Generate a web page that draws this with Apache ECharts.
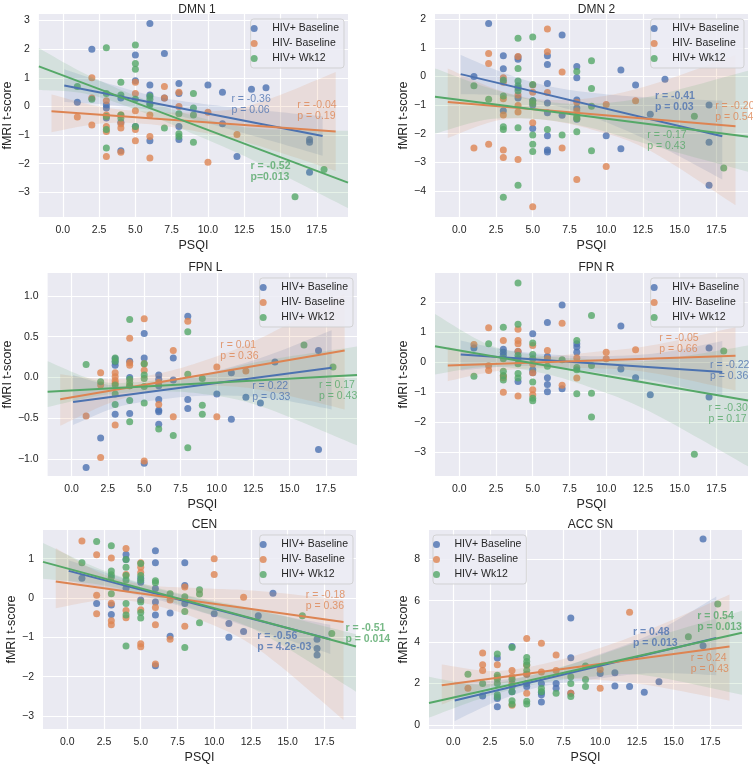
<!DOCTYPE html>
<html><head><meta charset="utf-8">
<script src="https://cdn.jsdelivr.net/npm/echarts@6/dist/echarts.min.js"></script>
<style>html,body{margin:0;padding:0;background:#fff}#c{width:753px;height:765px}</style>
</head><body><div id="c"></div>
<script>
const GROUPS = ['HIV+ Baseline', 'HIV- Baseline', 'HIV+ Wk12'];
const PANEL_TITLES = ['DMN 1', 'DMN 2', 'FPN L', 'FPN R', 'CEN', 'ACC SN'];
const X_TICKS = [0, 2.5, 5, 7.5, 10, 12.5, 15, 17.5];
const Y_TICKS_DMN1 = [-3, -2, -1, 0, 1, 2, 3];
const Y_TICKS_DMN2 = [-4, -3, -2, -1, 0, 1, 2];
const Y_TICKS_FPNL = [-1, -0.5, 0, 0.5, 1];
const Y_TICKS_FPNR = [-3, -2, -1, 0, 1, 2];
const Y_TICKS_CEN = [-3, -2, -1, 0, 1];
const Y_TICKS_ACC = [0, 2, 4, 6, 8];

// ---------- DMN 1 ----------
const dmn1_pos = [[1,0.15],[2,2.0],[3,0.05],[3,-0.05],[3,-0.4],[4,0.3],[4,-0.55],[4,-1.55],[5,1.8],[5,0.9],[5,-0.7],[6,2.9],[6,0.75],[6,0.4],[6,0.1],[6,-1.2],[7,1.85],[7,0.3],[8,0.8],[8,0.45],[8,-0.7],[8,-1.15],[10,0.75],[11,0.5],[11,-0.6],[12,-1.75],[13,0.6],[14,0.65],[17,-1.15],[17,-1.25],[17,-2.3]];
const dmn1_neg = [[1,-0.37],[2,1.0],[2,0.3],[2,-0.65],[3,0.2],[3,-0.3],[3,-0.7],[3,-0.87],[3,-1.75],[4,-0.3],[4,-0.6],[4,-0.75],[4,-1.6],[5,0.85],[5,0.45],[5,-0.15],[5,-0.8],[5,-1.2],[6,-0.3],[6,-1.05],[6,-1.8],[7,0.7],[7,0.3],[8,0.5],[8,0.0],[10,-0.2],[10,-1.95],[12,-0.98]];
const dmn1_wk12 = [[1,0.7],[2,0.25],[3,2.05],[3,0.45],[3,-0.35],[3,-0.8],[3,-1.45],[4,0.85],[4,0.4],[4,-0.3],[4,-0.4],[5,2.15],[5,1.5],[5,1.3],[5,0.25],[5,-0.7],[6,0.35],[6,0.25],[6,0.05],[7,-0.75],[8,-0.25],[8,-0.95],[8,-1.05],[9,0.45],[9,-0.05],[9,-0.3],[9,-1.25],[16,-3.15],[18,-2.2]];
const dmn1_fit_pos = [[0.1,0.73],[17.9,-1.03]];
const dmn1_fit_neg = [[-0.78,-0.17],[18.8,-0.87]];
const dmn1_fit_wk12 = [[-1.65,1.4],[19.65,-2.66]];
const dmn1_ci_pos = [[0.1,0.16,1.30],[3,0.06,0.82],[6.5,-0.16,0.34],[10,-0.59,0.07],[14,-1.15,-0.15],[17.9,-1.72,-0.34]];
const dmn1_ci_neg = [[-0.78,-0.9,0.42],[2.5,-0.6,0.0],[5.5,-0.6,-0.17],[9,-0.85,-0.2],[13,-1.3,0.05],[18.8,-2.25,1.2]];
const dmn1_ci_wk12 = [[-1.65,0.58,2.04],[1.5,0.45,1.15],[5,-0.1,0.38],[8.5,-0.85,-0.25],[13,-1.85,-0.75],[19.65,-3.55,-0.85]];
const dmn1_stats = ['r = -0.36\np = 0.06', 'r = -0.04\np = 0.19', 'r = -0.52\np=0.013'];
const dmn1_bold = [false, false, true];

// ---------- DMN 2 ----------
const dmn2_pos = [[1,0.0],[2,1.85],[3,0.72],[3,0.27],[3,-1.2],[4,0.68],[4,0.6],[4,-0.4],[4,-0.75],[5,-0.85],[5,-1.0],[5,-1.82],[6,0.72],[6,0.42],[6,-0.25],[6,-0.93],[6,-1.27],[6,-2.07],[6,-2.57],[6,-2.64],[7,1.45],[7,-1.36],[8,0.35],[8,-0.05],[8,-0.82],[8,-1.1],[8,-1.5],[10,-2.07],[11,0.22],[11,-2.53],[12,-0.3],[13,-1.32],[14,-0.1],[17,-1.0],[17,-2.3],[17,-3.8]];
const dmn2_neg = [[1,-2.5],[2,0.8],[2,0.45],[2,-2.37],[3,-0.05],[3,-0.2],[3,-0.78],[3,-1.35],[3,-2.57],[3,-2.83],[4,0.7],[4,-0.65],[4,-1.02],[4,-1.24],[4,-2.9],[5,-0.3],[5,-0.55],[5,-1.62],[5,-4.55],[6,1.66],[6,0.86],[6,-0.56],[7,0.15],[7,-2.5],[8,-0.9],[8,-1.2],[8,-3.6],[10,-0.98],[10,-3.15],[12,-0.85]];
const dmn2_wk12 = [[1,-0.33],[2,-0.8],[3,-0.13],[3,-0.68],[3,-1.76],[3,-1.85],[3,-4.22],[4,1.33],[4,0.28],[4,-0.16],[4,-0.33],[4,-0.5],[4,-1.79],[4,-3.8],[5,1.38],[5,-0.28],[5,-0.85],[5,-0.95],[5,-2.05],[5,-2.37],[5,-2.62],[6,-1.85],[7,-2.05],[8,0.17],[8,-1.4],[8,-1.47],[8,-1.93],[9,0.55],[9,-0.42],[9,-1.04],[9,-2.6],[16,-1.39],[18,-3.2]];
const dmn2_fit_pos = [[0.1,0.08],[17.9,-2.09]];
const dmn2_fit_neg = [[-0.78,-0.89],[18.8,-1.74]];
const dmn2_fit_wk12 = [[-1.65,-0.71],[19.65,-2.11]];
const dmn2_ci_pos = [[0.1,-0.62,0.75],[3,-0.67,0.13],[6,-0.95,-0.33],[9.5,-1.5,-0.6],[13.5,-2.4,-0.75],[17.9,-3.6,-0.85]];
const dmn2_ci_neg = [[-0.78,-2.15,0.28],[2.5,-1.55,-0.45],[5.5,-1.5,-0.8],[9,-1.85,-0.75],[13,-2.6,-0.3],[18.8,-4.5,0.75]];
const dmn2_ci_wk12 = [[-1.65,-2.0,0.28],[2,-1.5,-0.4],[5.5,-1.5,-0.85],[9,-1.8,-0.95],[13,-2.4,-0.7],[19.65,-3.33,0.2]];
const dmn2_stats = ['r = -0.41\np = 0.03', 'r = -0.20\np = 0.54', 'r = -0.17\np = 0.43'];
const dmn2_bold = [true, false, false];

// ---------- FPN L ----------
const fpnl_pos = [[1,-1.1],[2,-0.74],[3,0.23],[3,0.19],[3,0.15],[3,-0.45],[4,0.2],[4,0.0],[4,-0.44],[5,0.54],[5,0.24],[5,-1.05],[6,0.03],[6,-0.02],[6,-0.1],[6,-0.27],[6,-0.4],[6,-0.42],[6,-0.57],[7,0.24],[7,-0.03],[8,0.75],[8,-0.27],[8,-0.38],[10,-0.2],[11,0.06],[11,-0.51],[12,-0.24],[13,-0.31],[14,0.19],[17,0.33],[17,-0.88]];
const fpnl_neg = [[1,-0.47],[2,0.06],[2,-0.09],[2,-0.98],[3,0.06],[3,0.01],[3,-0.04],[3,-0.07],[3,-0.58],[4,0.48],[4,0.18],[4,0.15],[4,-0.1],[5,0.72],[5,0.17],[5,0.09],[5,-1.02],[6,-0.06],[6,-0.33],[7,0.33],[7,-0.48],[8,0.69],[10,0.13],[10,-0.48],[12,0.08]];
const fpnl_wk12 = [[1,0.16],[2,-0.05],[3,0.24],[3,0.2],[3,-0.09],[3,-0.2],[3,-0.33],[4,0.71],[4,-0.02],[4,-0.06],[4,-0.1],[4,-0.28],[4,-0.54],[5,0.17],[5,0.03],[5,-0.01],[5,-0.11],[5,-0.31],[6,-0.63],[7,-0.71],[8,0.56],[8,0.04],[8,-0.86],[9,-0.01],[9,-0.34],[9,-0.45],[16,0.4],[18,0.13]];
const fpnl_fit_pos = [[0.1,-0.3],[17.9,0.12]];
const fpnl_fit_neg = [[-0.78,-0.265],[18.8,0.33]];
const fpnl_fit_wk12 = [[-1.65,-0.175],[19.65,0.03]];
const fpnl_ci_pos = [[0.1,-0.58,0.03],[3,-0.37,-0.1],[6,-0.27,-0.05],[9.5,-0.22,0.06],[13.5,-0.25,0.27],[17.9,-0.39,0.58]];
const fpnl_ci_neg = [[-0.78,-0.59,0.04],[2.5,-0.32,-0.02],[5.5,-0.17,0.03],[9,-0.1,0.2],[13,-0.15,0.48],[18.8,-0.39,1.03]];
const fpnl_ci_wk12 = [[-1.65,-0.36,0.2],[2,-0.22,-0.05],[5.5,-0.17,-0.04],[9,-0.2,0.03],[13,-0.35,0.2],[19.65,-0.83,0.38]];
const fpnl_stats = ['r = 0.22\np = 0.33', 'r = 0.01\np = 0.36', 'r = 0.17\np = 0.43'];
const fpnl_bold = [false, false, false];

// ---------- FPN R ----------
const fpnr_pos = [[1,0.47],[3,0.43],[3,0.33],[3,0.23],[4,0.35],[4,0.12],[4,-0.64],[5,0.94],[5,-0.25],[5,-0.35],[6,1.32],[6,0.19],[6,-0.52],[6,-0.74],[6,-0.98],[7,1.9],[7,-0.88],[8,0.61],[8,0.5],[8,0.33],[11,1.2],[11,-0.23],[12,-0.52],[13,-1.08],[17,0.47],[17,-1.16]];
const fpnr_neg = [[1,0.59],[2,1.14],[2,-0.12],[2,-0.28],[3,0.72],[3,-0.45],[3,-0.52],[3,-1.0],[4,1.09],[4,0.72],[4,0.61],[4,0.35],[4,-1.12],[5,0.55],[5,-0.06],[5,-0.35],[5,-0.92],[5,-1.08],[6,0.39],[6,0.11],[7,1.29],[7,-0.77],[8,0.14],[8,-0.53],[10,0.33],[10,0.11],[12,0.41]];
const fpnr_wk12 = [[1,-0.47],[2,0.61],[3,1.16],[3,0.11],[3,-0.3],[3,-0.45],[3,-0.59],[4,2.63],[4,1.26],[4,0.22],[4,-0.05],[4,-0.38],[4,-0.53],[5,0.64],[5,0.25],[5,0.11],[5,-0.66],[5,-1.2],[5,-1.28],[6,-0.14],[7,0.08],[8,0.72],[8,-0.18],[8,-0.25],[8,-1.05],[9,1.55],[9,-0.11],[9,-1.03],[9,-1.82],[16,-3.06],[18,0.37]];
const fpnr_fit_pos = [[0.1,0.25],[17.9,-0.33]];
const fpnr_fit_neg = [[-0.78,-0.11],[18.8,0.21]];
const fpnr_fit_wk12 = [[-1.65,0.53],[19.65,-1.27]];
const fpnr_ci_pos = [[0.1,-0.28,0.72],[3,-0.15,0.42],[6,-0.15,0.26],[9.5,-0.35,0.2],[13.5,-0.65,0.3],[17.9,-1.14,0.7]];
const fpnr_ci_neg = [[-0.78,-0.63,0.5],[2.5,-0.3,0.2],[5.5,-0.2,0.18],[9,-0.2,0.33],[13,-0.35,0.55],[18.8,-0.94,1.16]];
const fpnr_ci_wk12 = [[-1.65,-0.41,1.6],[2,-0.15,0.58],[5.5,-0.35,0.22],[9,-0.85,0.1],[13,-1.65,0.05],[19.65,-3.46,0.55]];
const fpnr_stats = ['r = -0.22\np = 0.36', 'r = -0.05\np = 0.66', 'r = -0.30\np = 0.17'];
const fpnr_bold = [false, false, false];

// ---------- CEN ----------
const cen_pos = [[1,0.5],[2,-0.14],[3,-0.18],[3,-0.42],[4,1.11],[4,0.98],[4,0.25],[5,0.5],[5,0.4],[5,-0.05],[6,1.2],[6,0.9],[6,0.24],[6,-0.1],[6,-0.43],[6,-1.72],[7,-0.38],[7,-0.97],[8,0.9],[8,0.32],[8,-0.14],[10,-0.4],[11,-0.65],[11,-1.0],[12,-0.85],[13,-0.45],[14,0.12],[17,-1.05],[17,-1.28],[17,-1.45]];
const cen_neg = [[1,1.45],[2,1.1],[2,0.07],[2,-0.4],[3,1.02],[3,-0.13],[3,-0.58],[3,-0.68],[4,1.26],[4,0.6],[4,-0.32],[4,-0.5],[5,0.9],[5,0.78],[5,0.65],[5,-0.3],[5,-1.16],[5,-1.24],[6,-0.24],[6,-0.68],[6,-1.68],[7,-0.05],[7,-1.05],[8,0.28],[8,-0.72],[10,1.0],[10,0.6],[12,0.02]];
const cen_wk12 = [[1,0.9],[2,1.44],[3,1.33],[3,0.69],[3,0.59],[3,0.53],[3,0.11],[4,0.98],[4,0.78],[4,0.57],[4,0.46],[4,-0.14],[4,-0.43],[4,-1.22],[5,0.88],[5,0.57],[5,0.45],[5,-0.1],[5,-0.37],[5,-0.51],[6,0.44],[6,0.39],[7,0.11],[8,0.03],[8,-0.34],[8,-1.26],[9,0.21],[9,0.1],[9,-0.63],[16,-0.45],[18,-0.9]];
const cen_fit_pos = [[0.1,0.69],[17.9,-1.05]];
const cen_fit_neg = [[-0.78,0.42],[18.8,-0.61]];
const cen_fit_wk12 = [[-1.65,0.92],[19.65,-1.23]];
const cen_ci_pos = [[0.1,0.43,0.96],[3,0.22,0.6],[6,-0.03,0.25],[9.5,-0.4,-0.06],[13.5,-0.88,-0.37],[17.9,-1.42,-0.68]];
const cen_ci_neg = [[-0.78,-0.26,1.27],[2.5,-0.05,0.6],[5.5,-0.15,0.33],[9,-0.55,0.25],[13,-1.3,0.18],[18.8,-3.1,-0.05]];
const cen_ci_wk12 = [[-1.65,0.49,1.4],[2,0.35,0.77],[5.5,0.07,0.33],[9,-0.33,0.0],[13,-0.85,-0.3],[19.65,-2.38,-0.92]];
const cen_stats = ['r = -0.56\np = 4.2e-03', 'r = -0.18\np = 0.36', 'r = -0.51\np = 0.014'];
const cen_bold = [true, false, true];

// ---------- ACC SN ----------
const acc_pos = [[2,1.4],[3,3.23],[3,1.28],[3,0.87],[4,3.79],[4,1.6],[5,2.45],[5,2.0],[5,1.85],[6,2.0],[6,1.58],[6,1.45],[6,1.1],[7,2.0],[7,1.77],[8,5.17],[8,3.24],[8,1.53],[10,2.48],[11,2.52],[11,1.88],[12,1.85],[13,1.58],[14,2.08],[17,8.99],[17,3.82]];
const acc_neg = [[1,1.77],[2,3.48],[2,2.9],[2,2.63],[3,2.9],[3,2.3],[4,2.63],[4,2.32],[4,2.0],[4,0.95],[5,4.17],[5,2.88],[5,2.45],[5,1.53],[6,3.94],[6,2.56],[7,3.38],[7,2.63],[8,1.53],[10,2.68],[10,1.77],[12,5.44]];
const acc_wk12 = [[1,2.45],[2,2.0],[3,3.42],[3,2.4],[3,2.2],[3,2.0],[3,1.45],[3,1.35],[4,3.74],[4,2.2],[4,1.85],[4,1.6],[4,1.17],[4,1.0],[5,3.26],[5,3.06],[5,2.9],[5,2.63],[5,1.14],[5,1.01],[6,1.77],[6,1.6],[7,1.53],[8,2.32],[8,2.0],[8,1.37],[9,2.84],[9,2.19],[9,1.85],[16,4.26],[18,5.84]];
const acc_fit_pos = [[0.1,1.18],[17.9,4.2]];
const acc_fit_neg = [[-0.78,1.92],[18.8,3.79]];
const acc_fit_wk12 = [[-1.65,1.06],[19.65,4.45]];
const acc_ci_pos = [[0.1,0.19,2.08],[3,1.15,2.15],[6,1.85,2.5],[9.5,2.2,3.3],[13.5,2.5,4.4],[17.9,2.4,6.2]];
const acc_ci_neg = [[-0.78,0.98,2.92],[2.5,1.85,2.6],[5.5,2.2,2.85],[9,2.2,3.5],[13,1.95,4.5],[18.8,1.17,6.3]];
const acc_ci_wk12 = [[-1.65,0.35,2.32],[2,1.3,1.95],[5.5,1.95,2.45],[9,2.3,3.15],[13,2.4,4.1],[19.65,1.45,5.52]];
const acc_stats = ['r = 0.48\np = 0.013', 'r = 0.24\np = 0.43', 'r = 0.54\np = 0.013'];
const acc_bold = [true, false, true];

// ---------- assembly ----------
const PANEL_POINTS = [[dmn1_pos,dmn1_neg,dmn1_wk12],[dmn2_pos,dmn2_neg,dmn2_wk12],[fpnl_pos,fpnl_neg,fpnl_wk12],[fpnr_pos,fpnr_neg,fpnr_wk12],[cen_pos,cen_neg,cen_wk12],[acc_pos,acc_neg,acc_wk12]];
const PANEL_FITS = [[dmn1_fit_pos,dmn1_fit_neg,dmn1_fit_wk12],[dmn2_fit_pos,dmn2_fit_neg,dmn2_fit_wk12],[fpnl_fit_pos,fpnl_fit_neg,fpnl_fit_wk12],[fpnr_fit_pos,fpnr_fit_neg,fpnr_fit_wk12],[cen_fit_pos,cen_fit_neg,cen_fit_wk12],[acc_fit_pos,acc_fit_neg,acc_fit_wk12]];
const PANEL_CIS = [[dmn1_ci_pos,dmn1_ci_neg,dmn1_ci_wk12],[dmn2_ci_pos,dmn2_ci_neg,dmn2_ci_wk12],[fpnl_ci_pos,fpnl_ci_neg,fpnl_ci_wk12],[fpnr_ci_pos,fpnr_ci_neg,fpnr_ci_wk12],[cen_ci_pos,cen_ci_neg,cen_ci_wk12],[acc_ci_pos,acc_ci_neg,acc_ci_wk12]];
const PANEL_STATS = [dmn1_stats, dmn2_stats, fpnl_stats, fpnr_stats, cen_stats, acc_stats];
const PANEL_BOLD = [dmn1_bold, dmn2_bold, fpnl_bold, fpnr_bold, cen_bold, acc_bold];
const PANEL_YTICKS = [Y_TICKS_DMN1, Y_TICKS_DMN2, Y_TICKS_FPNL, Y_TICKS_FPNR, Y_TICKS_CEN, Y_TICKS_ACC];

// layout (pixels / axis limits / label anchors)
const COLORS = ['#4C72B0', '#DD8452', '#55A868'];
const TEXT = '#262626';
const FONT = '"Liberation Sans", Arial, sans-serif';
const X_RANGE = [-1.65, 19.65];
const LAYOUT = [
  {grid:{left:36, top:14, width:312, height:203}, y:[-3.86,3.23], titleTop:-1, yGap:21, legend:{right:409, top:19}, dec:0,
   ann:[[11.58,0.055],[16.12,-0.14],[12.9,-2.275]]},
  {grid:{left:435, top:14, width:313, height:203}, y:[-4.91,2.18], titleTop:-1, yGap:24, legend:{right:9, top:19}, dec:0,
   ann:[[13.28,-0.895],[17.38,-1.245],[12.76,-2.235]]},
  {grid:{left:44, top:273, width:313, height:203}, y:[-1.205,1.28], titleTop:257, yGap:32, legend:{right:400, top:278}, dec:1,
   ann:[[12.4,-0.17],[10.2,0.33],[17.0,-0.155]]},
  {grid:{left:435, top:273, width:313, height:203}, y:[-3.78,2.96], titleTop:257, yGap:24, legend:{right:9, top:278}, dec:0,
   ann:[[17.03,-0.29],[13.58,0.61],[16.92,-1.705]]},
  {grid:{left:43, top:530, width:313, height:203}, y:[-3.33,1.73], titleTop:514, yGap:24, legend:{right:400, top:535}, dec:0,
   ann:[[12.9,-1.1],[16.2,-0.06],[18.9,-0.915]]},
  {grid:{left:429, top:530, width:313, height:203}, y:[-0.2,9.42], titleTop:514, yGap:17, legend:{left:433, top:535}, dec:0,
   ann:[[12.2,4.225],[16.12,2.95],[16.57,4.985]]}
];

const fmtMinus = (v, dec) => (v < 0 ? '\u2212' : '') + Math.abs(v).toFixed(dec);

// Catmull-Rom smoothing of a pixel polyline (rendering only, like smooth:true)
function smoothEdge(px) {
  const out = [], n = px.length, steps = 12;
  for (let i = 0; i < n - 1; i++) {
    const p0 = px[Math.max(i - 1, 0)], p1 = px[i], p2 = px[i + 1], p3 = px[Math.min(i + 2, n - 1)];
    for (let s = 0; s < steps; s++) {
      const t = s / steps, t2 = t * t, t3 = t2 * t;
      const f = (a, b, c, d) => 0.5 * ((2 * b) + (-a + c) * t + (2 * a - 5 * b + 4 * c - d) * t2 + (-a + 3 * b - 3 * c + d) * t3);
      out.push([f(p0[0], p1[0], p2[0], p3[0]), f(p0[1], p1[1], p2[1], p3[1])]);
    }
  }
  out.push(px[n - 1]);
  return out;
}

const grids = [], xAxes = [], yAxes = [], titles = [], legends = [], series = [];
LAYOUT.forEach((L, p) => {
  grids.push(Object.assign({show:true, backgroundColor:'#EAEAF2', borderWidth:0}, L.grid));
  titles.push({text:PANEL_TITLES[p], left:L.grid.left + L.grid.width/2, top:L.titleTop, textAlign:'center',
    textStyle:{fontSize:12, fontWeight:'normal', color:TEXT, fontFamily:FONT}});
  xAxes.push({gridIndex:p, type:'value', min:X_RANGE[0], max:X_RANGE[1],
    name:'PSQI', nameLocation:'middle', nameGap:22, nameTextStyle:{fontSize:12.5, color:TEXT, fontFamily:FONT},
    axisLine:{show:false}, axisTick:{show:false, customValues:X_TICKS},
    axisLabel:{customValues:X_TICKS, formatter:v => v.toFixed(1), fontSize:10.5, color:TEXT, margin:8, fontFamily:FONT},
    splitLine:{show:true, lineStyle:{color:'#ffffff', width:1.2}}});
  const yt = PANEL_YTICKS[p];
  yAxes.push({gridIndex:p, type:'value', min:L.y[0], max:L.y[1],
    name:'fMRI t-score', nameLocation:'middle', nameGap:L.yGap, nameTextStyle:{fontSize:12.5, color:TEXT, fontFamily:FONT},
    axisLine:{show:false}, axisTick:{show:false, customValues:yt},
    axisLabel:{customValues:yt, formatter:v => fmtMinus(v, L.dec), fontSize:10.5, color:TEXT, margin:9, fontFamily:FONT},
    splitLine:{show:true, lineStyle:{color:'#ffffff', width:1.2}}});
  legends.push(Object.assign({data:GROUPS, orient:'vertical', icon:'circle', itemWidth:26, itemHeight:7, itemGap:2,
    padding:[3,5,3,0], backgroundColor:'rgba(236,236,244,0.85)', borderColor:'rgba(204,204,204,0.8)', borderWidth:1, borderRadius:3,
    selectedMode:false, textStyle:{fontSize:10.5, color:TEXT, lineHeight:13, fontFamily:FONT}}, L.legend));

  GROUPS.forEach((g, k) => {
    const col = COLORS[k];
    series.push({type:'scatter', name:g, xAxisIndex:p, yAxisIndex:p, data:PANEL_POINTS[p][k],
      symbolSize:7, itemStyle:{color:col, opacity:0.8}, z:2, silent:true, animation:false});
    const ci = PANEL_CIS[p][k];
    series.push({type:'custom', name:'ci', xAxisIndex:p, yAxisIndex:p, data:ci, clip:true, z:3, silent:true, animation:false,
      encode:{x:0, y:1},
      renderItem:(params, api) => {
        if (params.dataIndex !== 0) return null;
        const up = ci.map(r => api.coord([r[0], r[2]]));
        const lo = ci.map(r => api.coord([r[0], r[1]]));
        const pts = smoothEdge(up).concat(smoothEdge(lo).reverse());
        return {type:'polygon', shape:{points:pts}, style:{fill:col, opacity:0.15}};
      }});
    series.push({type:'line', name:'fit', xAxisIndex:p, yAxisIndex:p, data:PANEL_FITS[p][k], symbol:'none',
      lineStyle:{color:col, width:2}, z:4, silent:true, animation:false});
  });
  series.push({type:'scatter', name:'stats', xAxisIndex:p, yAxisIndex:p, symbolSize:1, z:5, silent:true, animation:false,
    itemStyle:{color:'rgba(0,0,0,0)'},
    data:L.ann.map((a, k) => ({value:a, label:{show:true, position:'right', distance:0, formatter:PANEL_STATS[p][k],
      color:COLORS[k], fontSize:10.5, lineHeight:11, fontWeight:PANEL_BOLD[p][k] ? 'bold' : 'normal', fontFamily:FONT}}))});
});

const chart = echarts.init(document.getElementById('c'), null, {renderer:'canvas'});
chart.setOption({animation:false, textStyle:{fontFamily:FONT}, title:titles, grid:grids, xAxis:xAxes, yAxis:yAxes, legend:legends, series:series});
</script></body></html>
